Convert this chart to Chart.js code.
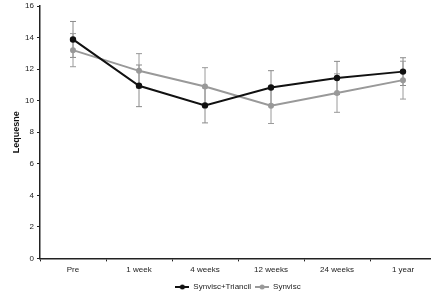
<!DOCTYPE html>
<html>
<head>
<meta charset="utf-8">
<script src="https://cdn.jsdelivr.net/npm/chart.js@4"></script>
<style>
  html, body { margin: 0; padding: 0; background: #fff; overflow: hidden; }
  #wrap { width: 431px; height: 294px; overflow: hidden; }
</style>
</head>
<body>
<div id="wrap"><canvas id="chart" width="442" height="294"></canvas></div>
<script>
const timepoints = ['Pre', '1 week', '4 weeks', '12 weeks', '24 weeks', '1 year']
const comboMean = [13.88, 10.94, 9.70, 10.83, 11.44, 11.84]
const comboErr = [1.14, 1.32, 1.11, 1.07, 1.05, 0.88]
const synviscMean = [13.20, 11.89, 10.90, 9.68, 10.48, 11.30]
const synviscErr = [1.05, 1.09, 1.19, 1.13, 1.22, 1.20]
const yTicks = [0, 2, 4, 6, 8, 10, 12, 14, 16]

const FONT = 'Liberation Sans, Arial, sans-serif'

// little line-with-dot picture for the legend
const legendMarker = (color) => {
    const c = document.createElement('canvas')
    c.width = 14
    c.height = 6
    const g = c.getContext('2d')
    g.strokeStyle = color
    g.lineWidth = 2
    g.beginPath()
    g.moveTo(0, 3)
    g.lineTo(14, 3)
    g.stroke()
    g.fillStyle = color
    g.beginPath()
    g.arc(7, 3, 2.5, 0, Math.PI * 2)
    g.fill()
    return c
}

// error bars drawn through the chart scales
const errorBars = {
    id: 'errorBars',
    beforeDatasetsDraw(chart) {
        const ctx = chart.ctx
        const yScale = chart.scales.y
        chart.data.datasets.forEach((ds, i) => {
            const meta = chart.getDatasetMeta(i)
            ctx.save()
            ctx.strokeStyle = ds.errColor
            ctx.lineWidth = 1
            meta.data.forEach((pt, j) => {
                const top = yScale.getPixelForValue(ds.data[j] + ds.err[j])
                const bot = yScale.getPixelForValue(ds.data[j] - ds.err[j])
                const x = pt.x
                ctx.beginPath()
                ctx.moveTo(x, top)
                ctx.lineTo(x, bot)
                ctx.moveTo(x - 3, top)
                ctx.lineTo(x + 3, top)
                ctx.moveTo(x - 3, bot)
                ctx.lineTo(x + 3, bot)
                ctx.stroke()
            })
            ctx.restore()
        })
    }
}

// centre the legend under the plot area instead of the whole canvas
const legendUnderPlot = {
    id: 'legendUnderPlot',
    afterLayout(chart) {
        const lg = chart.legend
        const area = chart.chartArea
        const shift = (area.left + area.right) / 2 - (lg.left + lg.right) / 2
        lg.left += shift
        lg.right += shift
    }
}

new Chart(document.getElementById('chart'), {
    type: 'line',
    data: {
        labels: timepoints,
        datasets: [{
            label: 'Synvisc+Triancil',
            data: comboMean,
            err: comboErr,
            errColor: '#8a8a8a',
            borderColor: '#111111',
            backgroundColor: '#111111',
            borderWidth: 2,
            pointRadius: 2.2,
            pointStyle: 'circle',
            tension: 0,
            order: 1
        }, {
            label: 'Synvisc',
            data: synviscMean,
            err: synviscErr,
            errColor: '#9a9a9a',
            borderColor: '#999999',
            backgroundColor: '#999999',
            borderWidth: 2,
            pointRadius: 2,
            pointStyle: 'circle',
            tension: 0,
            order: 2
        }]
    },
    options: {
        responsive: false,
        animation: false,
        layout: { padding: { top: 1, right: 0, left: 11, bottom: -7 } },
        scales: {
            x: {
                offset: true,
                afterFit: scale => {
                    scale.paddingLeft = 0
                    scale.paddingRight = 0
                },
                grid: {
                    offset: true,
                    drawOnChartArea: false,
                    drawTicks: true,
                    tickLength: 3,
                    color: '#222'
                },
                border: { color: '#222', width: 1.5 },
                ticks: {
                    color: '#222',
                    font: { family: FONT, size: 8 },
                    padding: 4,
                    maxRotation: 0
                }
            },
            y: {
                min: 0,
                max: 16,
                afterBuildTicks: scale => {
                    scale.ticks = yTicks.map(v => ({ value: v }))
                },
                afterFit: scale => {
                    scale.width = 29
                    scale.paddingTop = 0
                    scale.paddingBottom = 0
                },
                grid: {
                    drawOnChartArea: false,
                    drawTicks: true,
                    tickLength: 3,
                    color: '#222'
                },
                border: { color: '#222', width: 1.5 },
                ticks: {
                    color: '#222',
                    font: { family: FONT, size: 8 },
                    padding: 3
                },
                title: {
                    display: true,
                    text: 'Lequesne',
                    color: '#111',
                    font: { family: FONT, size: 9, weight: 'bold' },
                    padding: { top: 0, bottom: 2 }
                }
            }
        },
        plugins: {
            legend: {
                position: 'bottom',
                labels: {
                    usePointStyle: true,
                    pointStyleWidth: 14,
                    color: '#222',
                    font: { family: FONT, size: 8 },
                    boxWidth: 14,
                    padding: 4,
                    generateLabels: chart => {
                        const items = Chart.defaults.plugins.legend.labels.generateLabels(chart)
                        items.forEach(it => {
                            it.pointStyle = legendMarker(chart.data.datasets[it.datasetIndex].borderColor)
                        })
                        return items
                    }
                }
            },
            tooltip: { enabled: false }
        }
    },
    plugins: [errorBars, legendUnderPlot]
})
</script>
</body>
</html>
